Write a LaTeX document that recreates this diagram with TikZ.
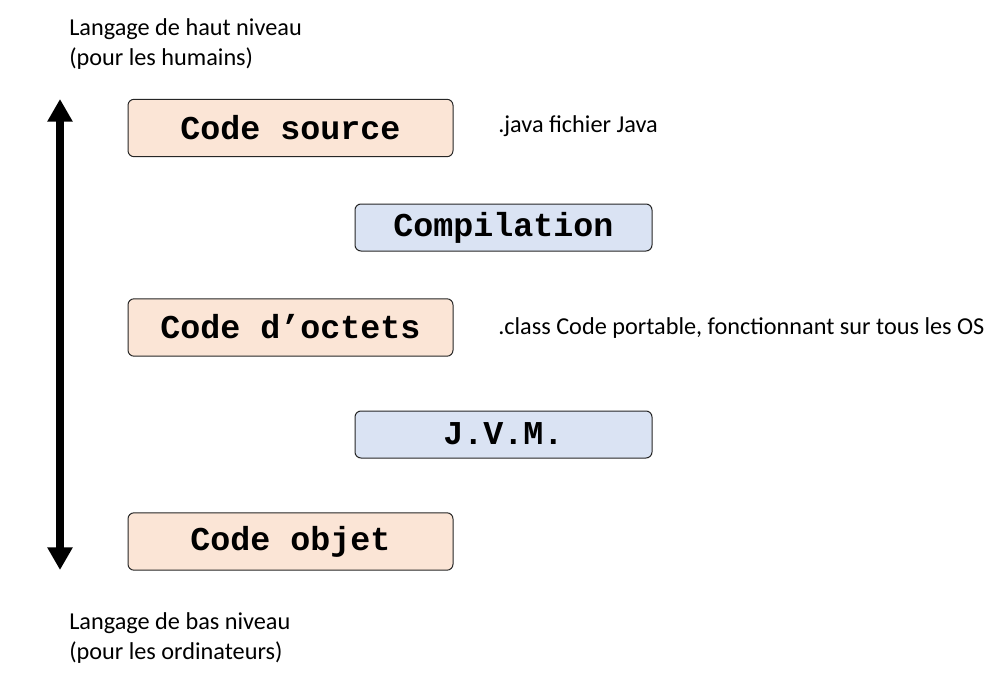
\documentclass[tikz,border=0pt]{standalone}
\usepackage{fontspec}
\setmainfont{Carlito}
\newfontfamily\boxfont{Liberation Mono}
\usetikzlibrary{arrows.meta}
\definecolor{peach}{HTML}{FBE5D6}
\definecolor{paleblue}{HTML}{DAE3F3}
\tikzset{
  codebox/.style={draw=black!85, line width=0.75pt, rounded corners=4.5pt, fill=peach,
    minimum width=243.75pt, minimum height=43pt, inner sep=0pt,
    font=\boxfont\bfseries\fontsize{25}{28}\selectfont},
  procbox/.style={codebox, fill=paleblue, minimum width=222.75pt, minimum height=35.25pt},
  note/.style={anchor=west, inner sep=0pt, align=left, font=\fontsize{18.2}{22.5}\selectfont}
}
\begin{document}
\begin{tikzpicture}[x=0.75pt, y=-0.75pt]
\useasboundingbox (0,0) rectangle (1006,681);
\node[note, anchor=north west] (haut) at (69,18) {Langage de haut niveau\\(pour les humains)};
\node[note, anchor=north west] (bas) at (69,612) {Langage de bas niveau\\(pour les ordinateurs)};
\node[codebox] (src) at (290.5,128) {\raisebox{1.5pt}{Code source}};
\node[procbox] (comp) at (503.5,227.5) {\raisebox{1.5pt}{Compilation}};
\node[codebox] (oct) at (290.5,327.5) {\raisebox{1.5pt}{Code d’octets}};
\node[procbox] (jvm) at (503.5,434.5) {\raisebox{1.5pt}{J.V.M.}};
\node[codebox] (obj) at (290.5,541.5) {\raisebox{1.5pt}{Code objet}};
\node[note] (java) at (498,126) {.java fichier Java};
\node[note] (cls) at (498,328) {.class Code portable, fonctionnant sur tous les OS};
\coordinate (atop) at (60,99);
\coordinate (abot) at (60,570);
\draw[line width=6pt, {Triangle[length=17pt,width=18pt]}-{Triangle[length=17pt,width=18pt]}] (atop) -- (abot);
\end{tikzpicture}
\end{document}
